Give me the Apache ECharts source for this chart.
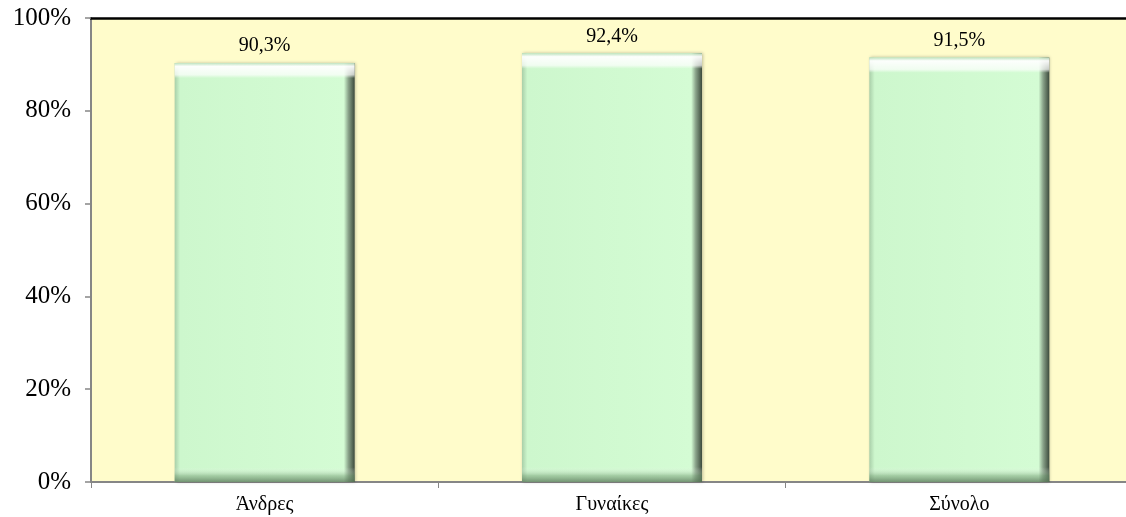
<!DOCTYPE html>
<html>
<head>
<meta charset="utf-8">
<script src="https://cdn.jsdelivr.net/npm/echarts@6/dist/echarts.min.js"></script>
<style>html,body{margin:0;padding:0;background:#fff}#c{width:1126px;height:517px}</style>
</head>
<body>
<div id="c"></div>
<script>
var categories = ['Άνδρες', 'Γυναίκες', 'Σύνολο'];
var values = [90.3, 92.4, 91.5];
var yTicks = [0, 20, 40, 60, 80, 100];

var chart = echarts.init(document.getElementById('c'), null, {renderer: 'canvas'});
var font = 'Liberation Serif';
chart.setOption({
  animation: false,
  grid: {left: 91, width: 1042, top: 18, bottom: 35, outerBoundsMode: 'none', containLabel: false,
         show: true, backgroundColor: '#FFFCCB', borderWidth: 0},
  xAxis: [{
    type: 'category', data: categories,
    axisLine: {lineStyle: {color: '#868686', width: 2}},
    axisTick: {show: true, length: 6, lineStyle: {color: '#868686', width: 1}},
    axisLabel: {fontFamily: font, fontSize: 20, color: '#000', margin: 13}
  }, {
    type: 'category', data: categories, position: 'top',
    axisLine: {lineStyle: {color: '#000', width: 2.5}},
    axisTick: {show: false}, axisLabel: {show: false}
  }],
  yAxis: {
    type: 'value', min: yTicks[0], max: yTicks[yTicks.length - 1], interval: 20,
    axisLine: {show: true, lineStyle: {color: '#868686', width: 2}},
    axisTick: {show: true, length: 6, lineStyle: {color: '#868686', width: 1.5}},
    splitLine: {show: false},
    axisLabel: {fontFamily: font, fontSize: 25, color: '#000', margin: 20, formatter: '{value}%'}
  },
  series: [{
    type: 'bar', data: values, barWidth: 180, xAxisIndex: 0,
    itemStyle: {
      color: new echarts.graphic.LinearGradient(0, 0, 1, 0, [
        {offset: 0, color: '#a9cfa9'},
        {offset: 0.03, color: '#cdf7cd'},
        {offset: 0.94, color: '#d4fcd4'},
        {offset: 0.965, color: '#8aa38a'},
        {offset: 1, color: '#3c4a3c'}
      ]),
      shadowColor: 'rgba(0,0,0,0.25)', shadowBlur: 3, shadowOffsetX: 1
    },
    label: {
      show: true, position: 'top', distance: 7, fontFamily: font, fontSize: 20, color: '#000',
      formatter: function (p) { return p.value.toFixed(1).replace('.', ',') + '%'; }
    }
  }, {
    type: 'bar', data: values, barWidth: 180, barGap: '-100%', xAxisIndex: 0, silent: true,
    itemStyle: {
      color: new echarts.graphic.LinearGradient(0, 0, 0, 1, [
        {offset: 0, color: 'rgba(190,225,190,0.9)'},
        {offset: 0.008, color: 'rgba(255,255,255,0.95)'},
        {offset: 0.028, color: 'rgba(255,255,255,0.7)'},
        {offset: 0.036, color: 'rgba(255,255,255,0)'},
        {offset: 0.965, color: 'rgba(255,255,255,0)'},
        {offset: 0.985, color: 'rgba(120,160,120,0.5)'},
        {offset: 1, color: 'rgba(90,120,90,0.8)'}
      ])
    }
  }]
});
</script>
</body>
</html>
